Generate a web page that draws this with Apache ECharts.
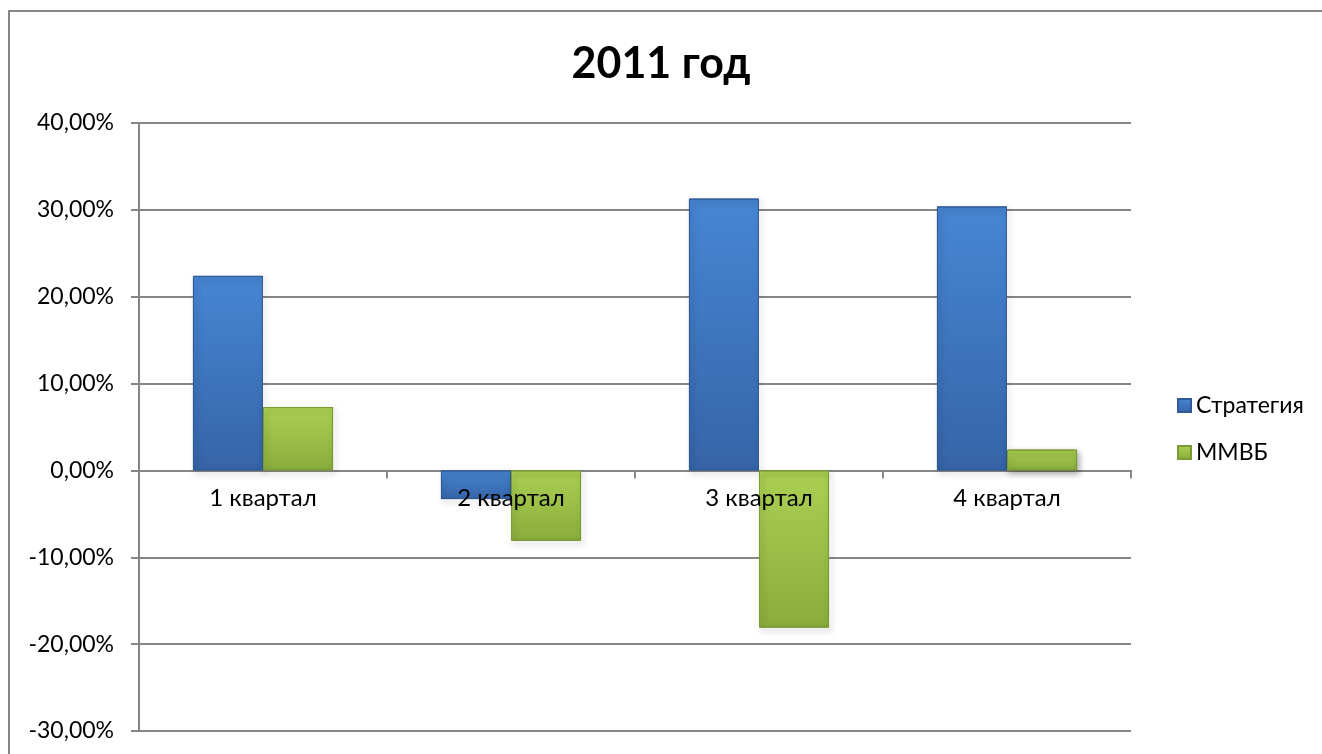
<!DOCTYPE html>
<html>
<head>
<meta charset="utf-8">
<script src="https://cdn.jsdelivr.net/npm/echarts@6/dist/echarts.min.js"></script>
<style>
html,body{margin:0;padding:0;background:#fff;}
#c{width:1322px;height:754px;}
</style>
</head>
<body>
<div id="c"></div>
<script>
const titleText = '2011 год';
const categories = ['1 квартал', '2 квартал', '3 квартал', '4 квартал'];
const seriesNames = ['Стратегия', 'ММВБ'];
const strategyValues = [22.4, -3.3, 31.3, 30.4];
const micexValues = [7.3, -8.1, -18.1, 2.4];
const yMin = -30, yMax = 40, yStep = 10;

const FONT = 'Lato, "Open Sans", sans-serif';
const GRID = {left: 139, right: 191, top: 123, bottom: 23};

function grad(top, bottom) {
  return new echarts.graphic.LinearGradient(0, 0, 0, 1, [
    {offset: 0, color: top},
    {offset: 1, color: bottom}
  ]);
}

const chart = echarts.init(document.getElementById('c'), null, {renderer: 'canvas'});

function build(labelOffset) {
  return {
    backgroundColor: '#fff',
    animation: false,
    title: {
      text: titleText, left: 'center', top: 38,
      textStyle: {fontFamily: FONT, fontSize: 43, fontWeight: 'bold', color: '#000'}
    },
    graphic: [
      {type: 'line', shape: {x1: 9, y1: 11, x2: 9, y2: 754}, style: {stroke: '#868686', lineWidth: 2}},
      {type: 'line', shape: {x1: 8, y1: 11, x2: 1322, y2: 11}, style: {stroke: '#868686', lineWidth: 2}}
    ],
    legend: {
      orient: 'vertical', left: 1172, top: 389, itemGap: 24,
      itemWidth: 13, itemHeight: 13, icon: 'rect',
      textStyle: {fontFamily: FONT, fontSize: 23, color: '#000'},
      data: seriesNames
    },
    grid: Object.assign({containLabel: false, outerBoundsMode: 'none'}, GRID),
    xAxis: [
      {
        type: 'category', data: categories,
        axisLine: {onZero: true, lineStyle: {color: '#868686', width: 2}},
        axisTick: {show: true, length: 8, lineStyle: {color: '#868686', width: 2}},
        axisLabel: {show: false}
      },
      {
        type: 'category', data: categories, position: 'bottom', offset: labelOffset,
        z: 10,
        axisLine: {show: false}, axisTick: {show: false},
        axisLabel: {fontFamily: FONT, fontSize: 24, color: '#000', margin: 16}
      }
    ],
    yAxis: {
      type: 'value', min: yMin, max: yMax, interval: yStep,
      axisLine: {show: true, lineStyle: {color: '#868686', width: 2}},
      axisTick: {show: true, length: 8, lineStyle: {color: '#868686', width: 2}},
      splitLine: {show: true, lineStyle: {color: '#868686', width: 2}},
      axisLabel: {
        fontFamily: FONT, fontSize: 23, color: '#000', margin: 25,
        formatter: v => v.toFixed(2).replace('.', ',') + '%'
      }
    },
    series: [
      {
        name: seriesNames[0], type: 'bar', data: strategyValues,
        barGap: '0%', barCategoryGap: '43.5%',
        itemStyle: {
          color: grad('#4786d3', '#3664a8'),
          borderColor: '#2f5b98', borderWidth: 1,
          shadowBlur: 6, shadowColor: 'rgba(0,0,0,0.35)', shadowOffsetX: 2, shadowOffsetY: 3
        }
      },
      {
        name: seriesNames[1], type: 'bar', data: micexValues,
        itemStyle: {
          color: grad('#abd052', '#8aac3c'),
          borderColor: '#7a9a34', borderWidth: 1,
          shadowBlur: 6, shadowColor: 'rgba(0,0,0,0.35)', shadowOffsetX: 2, shadowOffsetY: 3
        }
      }
    ]
  };
}

chart.setOption(build(0));
const zeroY = chart.convertToPixel({yAxisIndex: 0}, 0);
const bottomY = chart.convertToPixel({yAxisIndex: 0}, yMin);
chart.setOption(build(-(bottomY - zeroY)));
</script>
</body>
</html>
